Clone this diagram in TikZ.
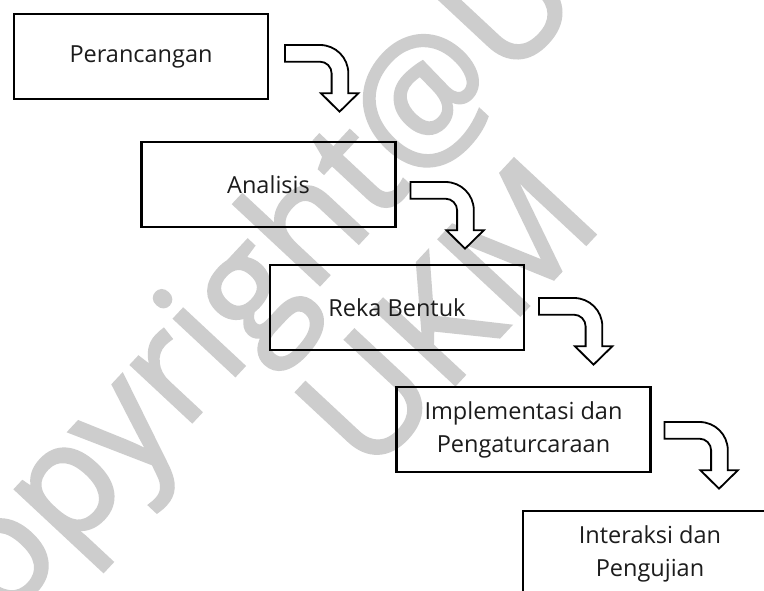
\documentclass[tikz,border=0pt]{standalone}
\usepackage{fontspec}
\setmainfont{Open Sans}
\newfontfamily\wmfont{Open Sans}[FakeBold=2]
\usetikzlibrary{calc}
\definecolor{wmgray}{RGB}{205,205,205}
\definecolor{inkc}{RGB}{28,28,28}
\tikzset{
  stage/.style={draw=black, line width=2.4pt, minimum width=254pt, minimum height=85pt,
    inner sep=0pt, outer sep=0pt, align=center, text=inkc,
    font=\fontsize{23.5}{33}\selectfont},
  wmtext/.style={text=wmgray, inner sep=0pt, outer sep=0pt, rotate=47, anchor=base west,
    font=\wmfont\fontsize{155}{155}\selectfont},
  bent/.pic={\draw[line width=1.8pt, fill=white, line join=miter]
    (0,0) -- (35,0) arc(-90:0:28.3) -- (63.3,48.3) -- (73.3,48.3) -- (54.5,66.7)
    -- (36,48.3) -- (46.6,48.3) -- (46.6,28.3) arc(0:-90:11.6) -- (0,16.7) -- cycle;}
}
\begin{document}
\begin{tikzpicture}[x=1pt,y=-1pt]
\useasboundingbox (0,0) rectangle (764,591);
\clip (0,0) rectangle (764,591);
\fill[white] (0,0) rectangle (764,591);
% watermark
\node[wmtext] (wm1) at (-47,678) {copyright@UKM};
\node[wmtext] (wm2) at (368,478) {UKM};
% stages
\node[stage] (b1) at (141,56.5) {Perancangan};
\node[stage] (b2) at (268.5,184.5) {Analisis};
\node[stage] (b3) at (397,307.5) {Reka Bentuk};
\node[stage] (b4) at (523.5,429.5) {Implementasi dan\\Pengaturcaraan};
\node[stage, minimum height=86pt] (b5) at (650,554) {Interaksi dan\\Pengujian};
% bent arrows
\pic at ($(b1.north east)+(17,31)$) {bent};
\pic at ($(b2.north east)+(15,40)$) {bent};
\pic at ($(b3.north east)+(15,33)$) {bent};
\pic at ($(b4.north east)+(14,35)$) {bent};
\end{tikzpicture}
\end{document}
